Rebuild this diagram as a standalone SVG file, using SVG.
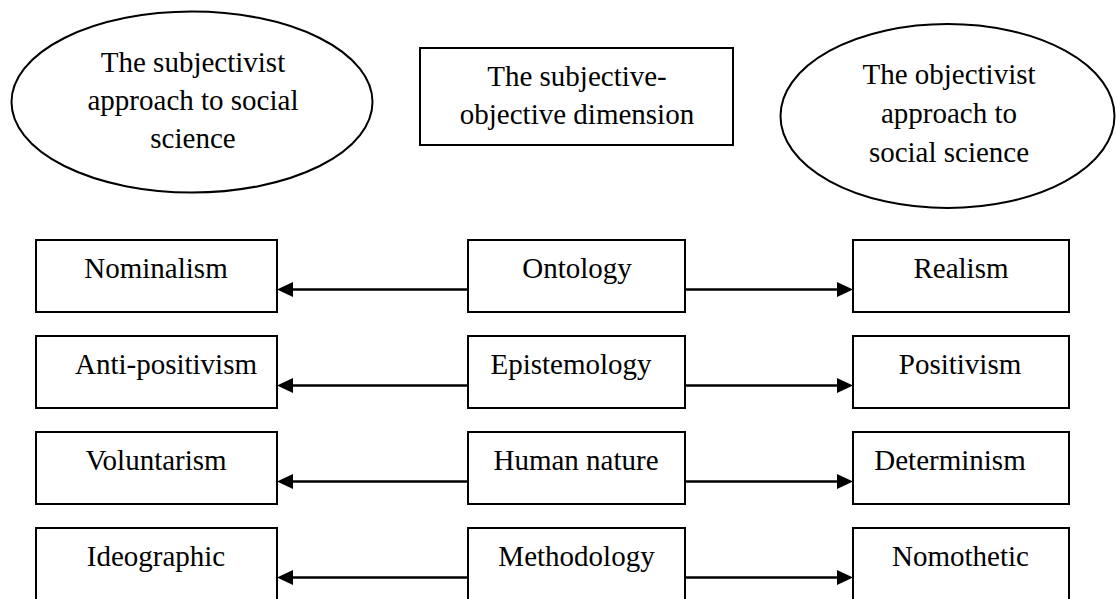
<svg xmlns="http://www.w3.org/2000/svg" width="1116" height="599" viewBox="0 0 1116 599">
<style>
.shape{fill:#fff;stroke:#000;stroke-width:2}
.t{font-family:"Liberation Serif","Times New Roman",serif;font-size:29px;fill:#000;text-anchor:middle}
.conn{stroke:#000;stroke-width:2.5;fill:none}
</style>
<defs>
<marker id="ah" viewBox="0 0 16 15" refX="12" refY="7.5" markerWidth="16" markerHeight="15" markerUnits="userSpaceOnUse" orient="auto">
<path d="M0,0 L16,7.5 L0,15 z" fill="#000"/>
</marker>
</defs>
<rect width="1116" height="599" fill="#fff"/>
<g id="subjectivist">
<ellipse class="shape" cx="192" cy="102" rx="180.5" ry="90.5"/>
<text class="t" x="193" y="72">The subjectivist</text>
<text class="t" x="193" y="110">approach to social</text>
<text class="t" x="193" y="148">science</text>
</g>
<g id="dimension">
<rect class="shape" x="420" y="48" width="313" height="97"/>
<text class="t" x="577" y="86">The subjective-</text>
<text class="t" x="577" y="124">objective dimension</text>
</g>
<g id="objectivist">
<ellipse class="shape" cx="947.5" cy="116" rx="167" ry="92"/>
<text class="t" x="949" y="84">The objectivist</text>
<text class="t" x="949" y="123">approach to</text>
<text class="t" x="949" y="162">social science</text>
</g>
<g id="nominalism"><rect class="shape" x="36" y="240" width="241" height="72"/><text class="t" x="156" y="278">Nominalism</text></g>
<g id="ontology"><rect class="shape" x="468" y="240" width="217" height="72"/><text class="t" x="577" y="278">Ontology</text></g>
<g id="realism"><rect class="shape" x="853" y="240" width="216" height="72"/><text class="t" x="961" y="278">Realism</text></g>
<g id="antipositivism"><rect class="shape" x="36" y="336" width="241" height="72"/><text class="t" x="166" y="374">Anti-positivism</text></g>
<g id="epistemology"><rect class="shape" x="468" y="336" width="217" height="72"/><text class="t" x="571" y="374">Epistemology</text></g>
<g id="positivism"><rect class="shape" x="853" y="336" width="216" height="72"/><text class="t" x="960" y="374">Positivism</text></g>
<g id="voluntarism"><rect class="shape" x="36" y="432" width="241" height="72"/><text class="t" x="156" y="470">Voluntarism</text></g>
<g id="humannature"><rect class="shape" x="468" y="432" width="217" height="72"/><text class="t" x="576" y="470">Human nature</text></g>
<g id="determinism"><rect class="shape" x="853" y="432" width="216" height="72"/><text class="t" x="950" y="470">Determinism</text></g>
<g id="ideographic"><rect class="shape" x="36" y="528" width="241" height="72"/><text class="t" x="156" y="566">Ideographic</text></g>
<g id="methodology"><rect class="shape" x="468" y="528" width="217" height="72"/><text class="t" x="576.5" y="566">Methodology</text></g>
<g id="nomothetic"><rect class="shape" x="853" y="528" width="216" height="72"/><text class="t" x="960.5" y="566">Nomothetic</text></g>
<g id="connectors">
<line class="conn" x1="468" y1="289.5" x2="281" y2="289.5" marker-end="url(#ah)"/>
<line class="conn" x1="685" y1="289.5" x2="849" y2="289.5" marker-end="url(#ah)"/>
<line class="conn" x1="468" y1="385.5" x2="281" y2="385.5" marker-end="url(#ah)"/>
<line class="conn" x1="685" y1="385.5" x2="849" y2="385.5" marker-end="url(#ah)"/>
<line class="conn" x1="468" y1="481.5" x2="281" y2="481.5" marker-end="url(#ah)"/>
<line class="conn" x1="685" y1="481.5" x2="849" y2="481.5" marker-end="url(#ah)"/>
<line class="conn" x1="468" y1="577.5" x2="281" y2="577.5" marker-end="url(#ah)"/>
<line class="conn" x1="685" y1="577.5" x2="849" y2="577.5" marker-end="url(#ah)"/>
</g>
</svg>
